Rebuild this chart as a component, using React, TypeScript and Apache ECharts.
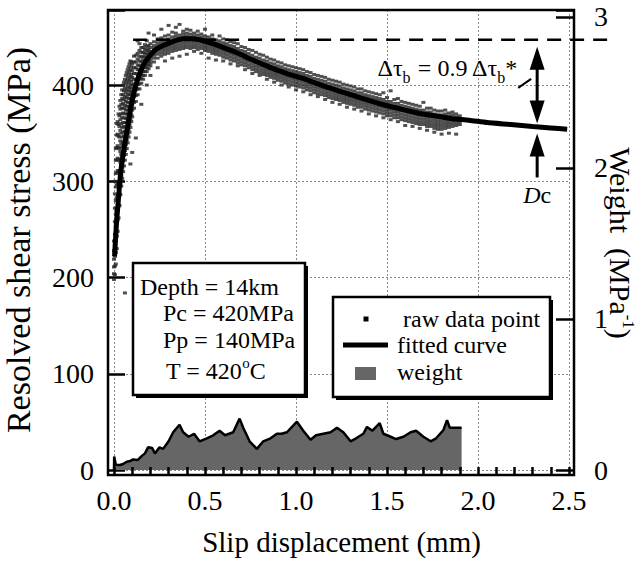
import React, { useEffect, useRef } from 'react';
import * as echarts from 'echarts';

const FONT = 'Liberation Serif';

// fitted curve (slip mm, stress MPa)
const fittedSlip = [0.003, 0.01, 0.015, 0.025, 0.033, 0.045, 0.06, 0.075, 0.088, 0.1, 0.115, 0.13, 0.152, 0.175, 0.2, 0.23, 0.27, 0.32, 0.38, 0.43, 0.49, 0.55, 0.6, 0.65, 0.7, 0.75, 0.8, 0.875, 0.95, 1.0, 1.06, 1.13, 1.2, 1.3, 1.4, 1.5, 1.6, 1.68, 1.78, 1.86, 1.95, 2.05, 2.18, 2.3, 2.4, 2.49];
const fittedStress = [222, 245, 260, 283, 302, 322, 340, 357, 372, 384, 396, 406, 417, 425, 431, 437, 441, 445, 448, 448, 446, 442.5, 439, 435.5, 431.5, 427, 423, 417, 412, 409, 405.5, 400.5, 396, 390, 384, 378.5, 374, 370.5, 367.5, 365, 363.5, 361, 359, 357, 355.5, 354];

// weight (MPa^-1)
const weightSlip = [0, 0.001, 0.01, 0.033, 0.05, 0.07, 0.09, 0.105, 0.13, 0.15, 0.17, 0.187, 0.21, 0.225, 0.25, 0.27, 0.3, 0.325, 0.36, 0.38, 0.41, 0.44, 0.47, 0.51, 0.545, 0.58, 0.61, 0.655, 0.69, 0.71, 0.745, 0.785, 0.82, 0.86, 0.895, 0.92, 0.95, 1.005, 1.04, 1.08, 1.11, 1.15, 1.19, 1.225, 1.26, 1.3, 1.33, 1.37, 1.39, 1.42, 1.46, 1.48, 1.52, 1.55, 1.59, 1.63, 1.66, 1.7, 1.74, 1.77, 1.81, 1.83, 1.845, 1.91];
const weightValue = [0, 0.09, 0.035, 0.033, 0.04, 0.055, 0.06, 0.07, 0.066, 0.09, 0.11, 0.15, 0.145, 0.11, 0.15, 0.14, 0.19, 0.25, 0.3, 0.25, 0.22, 0.24, 0.19, 0.21, 0.23, 0.26, 0.23, 0.25, 0.34, 0.28, 0.19, 0.14, 0.19, 0.21, 0.24, 0.24, 0.25, 0.32, 0.26, 0.2, 0.23, 0.24, 0.25, 0.28, 0.25, 0.19, 0.21, 0.24, 0.285, 0.26, 0.31, 0.24, 0.22, 0.205, 0.22, 0.25, 0.26, 0.22, 0.19, 0.21, 0.265, 0.33, 0.28, 0.28];

// raw data points: [slip, stresses at that slip]
const rawColumns: [number, number[]][] = [
  [0.0, [198, 204, 211, 219, 228, 238]],
  [0.005, [203, 212, 222, 233, 245, 258, 272, 287, 300]],
  [0.01, [214, 226, 240, 253, 266, 280, 294, 308, 322, 334]],
  [0.015, [230, 243, 256, 270, 283, 296, 309, 322, 335, 348, 360]],
  [0.02, [248, 260, 272, 285, 298, 311, 324, 337, 349, 362]],
  [0.025, [262, 274, 286, 298, 311, 323, 335, 347, 359, 370]],
  [0.03, [275, 287, 298, 310, 322, 334, 346, 357, 368, 378]],
  [0.035, [286, 297, 308, 320, 331, 342, 353, 364, 375, 384]],
  [0.04, [295, 306, 317, 328, 339, 350, 360, 370, 380, 390]],
  [0.045, [303, 314, 325, 336, 346, 356, 366, 376, 386, 395]],
  [0.05, [310, 321, 331, 341, 351, 361, 371, 381, 390, 400]],
  [0.055, [316, 327, 337, 347, 357, 366, 376, 385, 394, 403]],
  [0.06, [184, 322, 332, 342, 352, 361, 370, 379, 388, 397, 406]],
  [0.065, [328, 338, 347, 356, 365, 374, 383, 392, 401, 410]],
  [0.07, [334, 343, 352, 361, 370, 378, 387, 395, 404, 413]],
  [0.075, [340, 349, 357, 366, 374, 382, 390, 398, 407, 416]],
  [0.08, [346, 354, 362, 370, 378, 386, 394, 402, 410, 419]],
  [0.085, [351, 359, 367, 375, 382, 390, 397, 405, 413, 422]],
  [0.09, [318, 356, 364, 371, 378, 386, 393, 400, 408, 416, 425]],
  [0.095, [362, 369, 376, 383, 390, 397, 404, 411, 419, 424]],
  [0.1, [330, 367, 374, 380, 387, 394, 401, 408, 415, 422]],
  [0.11, [376, 382, 388, 394, 400, 406, 412, 418, 424, 430]],
  [0.12, [345, 383, 389, 395, 401, 406, 412, 418, 424, 431]],
  [0.13, [390, 396, 401, 406, 411, 416, 421, 427, 433, 446]],
  [0.14, [396, 401, 406, 411, 416, 420, 425, 430, 436, 443]],
  [0.15, [380, 402, 407, 411, 416, 420, 424, 429, 434, 439]],
  [0.16, [406, 410, 414, 418, 422, 426, 430, 434, 439]],
  [0.17, [410, 414, 418, 422, 425, 429, 433, 437, 442]],
  [0.18, [400, 414, 418, 421, 425, 428, 432, 436, 440, 446]],
  [0.19, [417, 421, 424, 427, 430, 434, 437, 441, 454]],
  [0.2, [410, 420, 423, 426, 429, 432, 435, 439, 443]],
  [0.22, [424, 428, 431, 434, 438, 441, 445, 452]],
  [0.24, [418, 428, 432, 435, 438, 441, 444, 448]],
  [0.26, [430, 433, 436, 439, 442, 445, 449, 458]],
  [0.28, [425, 432, 435, 438, 441, 444, 447, 451]],
  [0.3, [433, 436, 439, 442, 445, 448, 452, 462]],
  [0.32, [428, 435, 438, 441, 444, 447, 450, 455]],
  [0.34, [436, 439, 442, 445, 448, 451, 454, 460]],
  [0.36, [430, 437, 440, 443, 446, 449, 452, 463]],
  [0.38, [438, 441, 444, 447, 450, 453, 456]],
  [0.4, [432, 439, 442, 445, 448, 451, 454, 458]],
  [0.42, [438, 441, 444, 447, 450, 453, 457]],
  [0.44, [435, 439, 442, 445, 448, 451, 454]],
  [0.46, [437, 440, 443, 446, 449, 452, 456]],
  [0.48, [433, 438, 441, 444, 447, 450, 453]],
  [0.5, [436, 439, 442, 445, 448, 451, 458]],
  [0.52, [428, 435, 438, 441, 444, 447, 450]],
  [0.54, [433, 436, 439, 442, 445, 448, 452]],
  [0.56, [426, 432, 435, 438, 441, 444, 447]],
  [0.58, [431, 434, 437, 440, 443, 446, 451]],
  [0.6, [425, 429, 432, 435, 438, 441, 444, 448]],
  [0.62, [428, 431, 434, 437, 440, 443, 447]],
  [0.64, [422, 426, 429, 432, 435, 438, 441, 445]],
  [0.66, [425, 428, 431, 434, 437, 440, 444]],
  [0.68, [420, 423, 426, 429, 432, 435, 438, 443]],
  [0.7, [421, 424, 427, 430, 433, 436, 440]],
  [0.72, [416, 420, 423, 426, 429, 432, 435, 439]],
  [0.74, [418, 421, 424, 427, 430, 433, 437]],
  [0.76, [412, 416, 419, 422, 425, 428, 431, 436]],
  [0.78, [414, 417, 420, 423, 426, 429, 434]],
  [0.8, [410, 413, 416, 419, 422, 425, 428, 432]],
  [0.82, [411, 414, 417, 420, 423, 426, 431]],
  [0.84, [406, 410, 413, 416, 419, 422, 425, 429]],
  [0.86, [408, 411, 414, 417, 420, 423, 427]],
  [0.88, [403, 407, 410, 413, 416, 419, 422, 426]],
  [0.9, [405, 408, 411, 414, 417, 420, 424]],
  [0.92, [400, 404, 407, 410, 413, 416, 419, 423]],
  [0.94, [402, 405, 408, 411, 414, 417, 421]],
  [0.96, [398, 401, 404, 407, 410, 413, 416, 420]],
  [0.98, [400, 403, 406, 409, 412, 415, 419]],
  [1.0, [395, 399, 402, 405, 408, 411, 414, 418]],
  [1.02, [398, 401, 404, 407, 410, 413, 417]],
  [1.04, [393, 397, 400, 403, 406, 409, 412, 416]],
  [1.06, [395, 398, 401, 404, 407, 410, 414]],
  [1.08, [390, 394, 397, 400, 403, 406, 409, 413]],
  [1.1, [392, 395, 398, 401, 404, 407, 411]],
  [1.12, [388, 391, 394, 397, 400, 403, 406, 410]],
  [1.14, [390, 393, 396, 399, 402, 405, 409]],
  [1.16, [385, 389, 392, 395, 398, 401, 404, 408]],
  [1.18, [387, 390, 393, 396, 399, 402, 406]],
  [1.2, [382, 386, 389, 392, 395, 398, 401, 405]],
  [1.22, [385, 388, 391, 394, 397, 400, 404]],
  [1.24, [380, 384, 387, 390, 393, 396, 399, 403]],
  [1.26, [382, 385, 388, 391, 394, 397, 401]],
  [1.28, [377, 381, 384, 387, 390, 393, 396, 400]],
  [1.3, [380, 383, 386, 389, 392, 395, 399]],
  [1.32, [375, 379, 382, 385, 388, 391, 394, 398]],
  [1.34, [377, 380, 383, 386, 389, 392, 396]],
  [1.36, [373, 377, 380, 383, 386, 389, 392, 396]],
  [1.38, [375, 378, 381, 384, 387, 390, 394]],
  [1.4, [370, 374, 377, 380, 383, 386, 389, 393]],
  [1.42, [373, 376, 379, 382, 385, 388, 392]],
  [1.44, [368, 372, 375, 378, 381, 384, 387, 391]],
  [1.46, [371, 374, 377, 380, 383, 386, 390]],
  [1.48, [366, 370, 373, 376, 379, 382, 385, 392]],
  [1.5, [368, 371, 374, 377, 380, 383, 387]],
  [1.52, [364, 368, 371, 374, 377, 380, 383, 394]],
  [1.54, [366, 369, 372, 375, 378, 381, 385]],
  [1.56, [362, 366, 369, 372, 375, 378, 381, 386]],
  [1.58, [364, 367, 370, 373, 376, 379, 383]],
  [1.6, [358, 363, 366, 369, 372, 375, 378, 382]],
  [1.62, [362, 365, 368, 371, 374, 377, 381]],
  [1.64, [357, 361, 364, 367, 370, 373, 376, 380]],
  [1.66, [360, 363, 366, 369, 372, 375, 379]],
  [1.68, [355, 359, 362, 365, 368, 371, 374, 378]],
  [1.7, [359, 362, 365, 368, 371, 374, 382]],
  [1.72, [353, 357, 360, 363, 366, 369, 372, 376]],
  [1.74, [357, 360, 363, 366, 369, 372, 376]],
  [1.76, [351, 355, 358, 361, 364, 367, 370, 374]],
  [1.78, [354, 357, 360, 363, 366, 369, 373]],
  [1.8, [349, 354, 357, 360, 363, 366, 369, 373]],
  [1.82, [355, 358, 361, 364, 367, 370, 374]],
  [1.84, [350, 356, 359, 362, 365, 368, 371]],
  [1.86, [357, 360, 363, 366, 369, 372]],
  [1.88, [349, 358, 361, 364, 367, 370]],
  [1.9, [359, 362, 365, 368]],
];

// annotation values
const peakStress = 447;
const dcSlip = 2.325;
const residualStress = 357;
const infoLines = ['Depth = 14km', 'Pc = 420MPa', 'Pp = 140MPa'];
const legendLabels = ['raw data point', 'fitted curve', 'weight'];

export default function App() {
  const ref = useRef<HTMLDivElement>(null);
  useEffect(() => {
    const chart = echarts.init(ref.current!, null, { renderer: 'svg' });
    const rawData: number[][] = [];
    rawColumns.forEach(([x, ys]) => ys.forEach((y) => rawData.push([x, y])));
    const fitted = fittedSlip.map((x, i) => [x, fittedStress[i]]);
    const weight = weightSlip.map((x, i) => [x, weightValue[i]]);
    const axisFont = { fontFamily: FONT, fontSize: 28, color: '#000' };
    const split = { show: true, lineStyle: { color: '#888', type: [2, 2], width: 1 } };
    const tickLine = { color: '#000', width: 2.5 };
    const noLine = { show: false, onZero: false };

    chart.setOption({
      animation: false,
      backgroundColor: '#fff',
      textStyle: { fontFamily: FONT },
      grid: { left: 114, right: 73, top: 10, bottom: 91, containLabel: false, outerBoundsMode: 'none' },
      xAxis: [
        {
          type: 'value', min: 0, max: 2.5, interval: 0.5, offset: 5, z: 20, position: 'bottom',
          axisLine: noLine,
          axisTick: { show: true, inside: true, length: 8, lineStyle: tickLine },
          minorTick: { show: true, splitNumber: 5, length: 8, lineStyle: tickLine },
          axisLabel: { ...axisFont, margin: 11, formatter: (v: number) => v.toFixed(1) },
          splitLine: { show: false },
          name: 'Slip displacement (mm)', nameLocation: 'middle', nameGap: 52,
          nameTextStyle: { fontFamily: FONT, fontSize: 29, color: '#000' },
        },
        {
          type: 'value', min: 0, max: 2.5, interval: 0.5, position: 'bottom', z: 0,
          axisLine: noLine, axisTick: { show: false }, axisLabel: { show: false },
          splitLine: split,
        },
      ],
      yAxis: [
        {
          type: 'value', min: 0, max: 478, interval: 100, offset: 6, position: 'left', z: 0,
          axisLine: noLine,
          axisTick: { show: true, inside: true, length: 17, lineStyle: tickLine },
          axisLabel: { ...axisFont, margin: 14, formatter: (v: number) => (v % 100 === 0 ? String(v) : '') },
          splitLine: split,
          name: 'Resolved shear stress (MPa)', nameLocation: 'middle', nameRotate: 90, nameGap: 73,
          nameTextStyle: { fontFamily: FONT, fontSize: 34, color: '#000' },
        },
        {
          type: 'value', min: 0, max: 3.046, interval: 1, offset: 5, position: 'right', z: 20,
          axisLine: noLine,
          axisTick: { show: true, inside: true, length: 18, lineStyle: tickLine },
          axisLabel: { ...axisFont, margin: 20, formatter: (v: number) => (Number.isInteger(v) ? String(v) : '') },
          splitLine: { show: false },
        },
      ],
      series: [
        {
          type: 'line', xAxisIndex: 0, yAxisIndex: 1, data: weight, showSymbol: false, silent: true, z: 2,
          lineStyle: { color: '#000', width: 2.5 }, areaStyle: { color: '#666', opacity: 1 },
        },
        {
          type: 'scatter', xAxisIndex: 0, yAxisIndex: 0, data: rawData, symbol: 'rect', symbolSize: [4, 3], silent: true, z: 3,
          itemStyle: { color: '#262626' },
        },
        {
          type: 'line', xAxisIndex: 0, yAxisIndex: 0, data: fitted, showSymbol: false, smooth: 0.2, silent: true, z: 4,
          lineStyle: { color: '#000', width: 5 },
        },
      ],
    });

    const toPx = (x: number, y: number) =>
      chart.convertToPixel({ xAxisIndex: 0, yAxisIndex: 0 }, [x, y]) as number[];
    const [dashX0, peakY] = toPx(0.105, peakStress);
    const [dashX1] = toPx(2.71, peakStress);
    const [ax, resY] = toPx(dcSlip, residualStress);
    const head = (tipY: number, dir: number) => ({
      type: 'polygon', z: 100,
      shape: { points: [[ax, tipY], [ax - 7.5, tipY + dir * 23], [ax + 7.5, tipY + dir * 23]] },
      style: { fill: '#000' },
    });
    const textStyle = { fontFamily: FONT, fontSize: 24, fill: '#000' };

    chart.setOption({
      graphic: [
        { type: 'rect', z: 90, shape: { x: 108, y: 10, width: 466, height: 465 }, style: { fill: 'none', stroke: '#000', lineWidth: 2.5 } },
        // right axis title (rotated, reads top to bottom)
        {
          type: 'text', z: 100, x: 620, y: 243, rotation: -Math.PI / 2,
          style: {
            text: '{a|Weight  (MPa}{s|-1}{a|)}', align: 'center', verticalAlign: 'middle',
            rich: {
              a: { fontFamily: FONT, fontSize: 30, fill: '#000', lineHeight: 34 },
              s: { fontFamily: FONT, fontSize: 17, fill: '#000', lineHeight: 34, verticalAlign: 'top' },
            },
          },
        },
        { type: 'line', z: 95, shape: { x1: dashX0, y1: peakY, x2: dashX1, y2: peakY }, style: { stroke: '#000', lineWidth: 2.5, lineDash: [14, 9] } },
        head(peakY + 7, 1),
        { type: 'line', z: 100, shape: { x1: ax, y1: peakY + 29, x2: ax, y2: resY - 25 }, style: { stroke: '#000', lineWidth: 3 } },
        head(resY - 3, -1),
        head(resY + 7, 1),
        { type: 'line', z: 100, shape: { x1: ax, y1: resY + 29, x2: ax, y2: resY + 51 }, style: { stroke: '#000', lineWidth: 3 } },
        { type: 'line', z: 100, shape: { x1: ax - 19, y1: peakY + 48, x2: ax - 6, y2: peakY + 39 }, style: { stroke: '#000', lineWidth: 2 } },
        {
          type: 'text', z: 100, x: ax - 20, y: peakY + 28,
          style: {
            text: '{n|Δτ}{b|b}{n| = 0.9 Δτ}{b|b}{n|*}', verticalAlign: 'middle', align: 'right',
            rich: {
              n: { fontFamily: FONT, fontSize: 24, fill: '#000', lineHeight: 36 },
              b: { fontFamily: FONT, fontSize: 16, fill: '#000', lineHeight: 36, verticalAlign: 'bottom' },
            },
          },
        },
        {
          type: 'text', z: 100, x: ax, y: resY + 69,
          style: {
            text: '{i|D}{n|c}', align: 'center', verticalAlign: 'middle',
            rich: {
              i: { fontFamily: FONT, fontSize: 24, fontStyle: 'italic', fill: '#000' },
              n: { fontFamily: FONT, fontSize: 24, fill: '#000' },
            },
          },
        },
        { type: 'rect', z: 96, shape: { x: 136, y: 266, width: 172, height: 132 }, style: { fill: '#000' } },
        { type: 'rect', z: 97, shape: { x: 133, y: 263, width: 172, height: 132 }, style: { fill: '#fff', stroke: '#000', lineWidth: 2.5 } },
        { type: 'text', z: 98, x: 140, y: 287, style: { ...textStyle, text: infoLines[0], verticalAlign: 'middle' } },
        { type: 'text', z: 98, x: 163, y: 313, style: { ...textStyle, text: infoLines[1], verticalAlign: 'middle' } },
        { type: 'text', z: 98, x: 163, y: 340, style: { ...textStyle, text: infoLines[2], verticalAlign: 'middle' } },
        {
          type: 'text', z: 98, x: 166, y: 371,
          style: {
            text: '{n|T = 420}{s|o}{n|C}', verticalAlign: 'middle',
            rich: {
              n: { fontFamily: FONT, fontSize: 24, fill: '#000', lineHeight: 32 },
              s: { fontFamily: FONT, fontSize: 15, fill: '#000', lineHeight: 32, verticalAlign: 'top' },
            },
          },
        },
        { type: 'rect', z: 96, shape: { x: 336, y: 300, width: 217, height: 100 }, style: { fill: '#000' } },
        { type: 'rect', z: 97, shape: { x: 333, y: 297, width: 217, height: 100 }, style: { fill: '#fff', stroke: '#000', lineWidth: 2.5 } },
        { type: 'rect', z: 98, shape: { x: 363.5, y: 316.5, width: 5, height: 5 }, style: { fill: '#000' } },
        { type: 'line', z: 98, shape: { x1: 343, y1: 345, x2: 388, y2: 345 }, style: { stroke: '#000', lineWidth: 5 } },
        { type: 'rect', z: 98, shape: { x: 355, y: 367, width: 21, height: 13 }, style: { fill: '#666' } },
        { type: 'text', z: 98, x: 403, y: 319, style: { ...textStyle, text: legendLabels[0], verticalAlign: 'middle' } },
        { type: 'text', z: 98, x: 397, y: 345, style: { ...textStyle, text: legendLabels[1], verticalAlign: 'middle' } },
        { type: 'text', z: 98, x: 397, y: 372, style: { ...textStyle, text: legendLabels[2], verticalAlign: 'middle' } },
      ],
    });
    return () => chart.dispose();
  }, []);
  return (
    <div
      ref={ref}
      style={{ position: 'fixed', left: 0, top: 0, width: 642, height: 561, background: '#fff' }}
    />
  );
}
